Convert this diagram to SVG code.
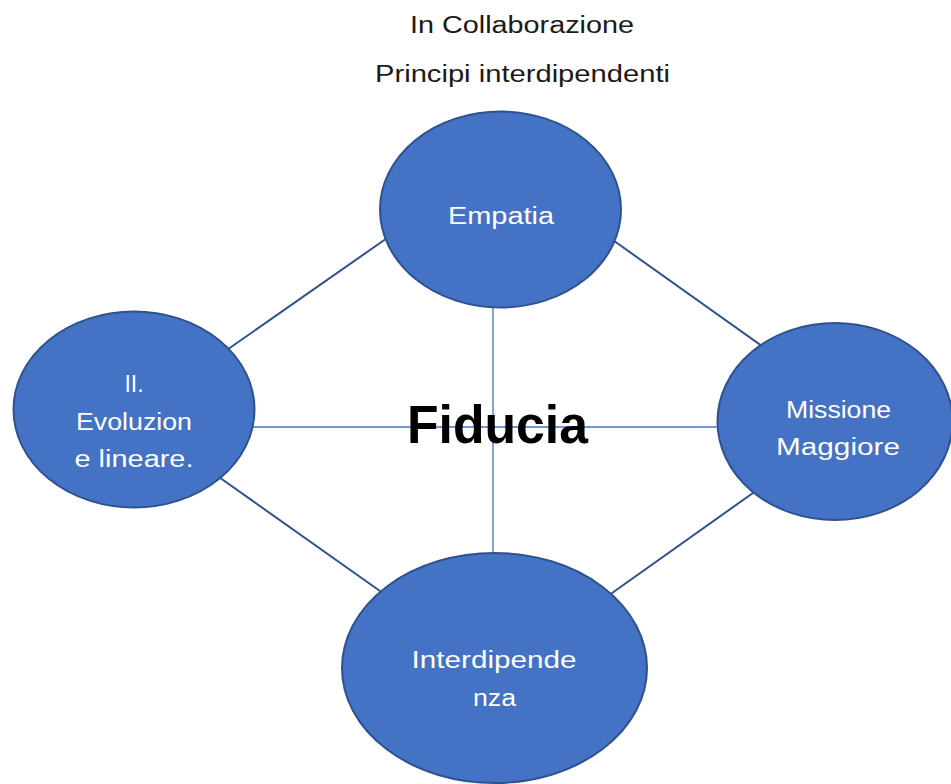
<svg xmlns="http://www.w3.org/2000/svg" width="951" height="784" viewBox="0 0 951 784">
<style>
.node{fill:#4472C4;stroke:#2F528F;stroke-width:2}
.lbl{font-family:"Liberation Sans","DejaVu Sans",sans-serif;font-size:23px;fill:#FFFFFF;text-anchor:middle}
.ttl{font-family:"Liberation Sans","DejaVu Sans",sans-serif;font-size:23px;fill:#1A1A1A;text-anchor:middle}
.diag{stroke:#2F528F;stroke-width:2;fill:none}
.cross{stroke:#4472C4;stroke-width:1.3;fill:none}
</style>
<rect width="951" height="784" fill="#FFFFFF"/>
<g id="title">
<text class="ttl" x="522" y="33" textLength="224" lengthAdjust="spacingAndGlyphs">In Collaborazione</text>
<text class="ttl" x="522.5" y="82" textLength="295" lengthAdjust="spacingAndGlyphs">Principi interdipendenti</text>
</g>
<g id="connectors">
<line class="diag" x1="390" y1="236" x2="224" y2="352"/>
<line class="diag" x1="610" y1="238" x2="766" y2="349"/>
<line class="diag" x1="216" y1="475" x2="387" y2="596"/>
<line class="diag" x1="760" y1="488" x2="605" y2="598"/>
<line class="cross" x1="493" y1="300" x2="493" y2="560"/>
<line class="cross" x1="250" y1="427" x2="722" y2="427"/>
</g>
<g id="node-empatia">
<ellipse class="node" cx="500.5" cy="209.5" rx="120.5" ry="98"/>
<text class="lbl" x="501" y="224" textLength="106" lengthAdjust="spacingAndGlyphs">Empatia</text>
</g>
<g id="node-evoluzione">
<ellipse class="node" cx="134" cy="409.5" rx="120.5" ry="98"/>
<text class="lbl" x="134" y="392">II.</text>
<text class="lbl" x="134" y="430" textLength="116" lengthAdjust="spacingAndGlyphs">Evoluzion</text>
<text class="lbl" x="134" y="467" textLength="119" lengthAdjust="spacingAndGlyphs">e lineare.</text>
</g>
<g id="node-missione">
<ellipse class="node" cx="835" cy="421.5" rx="117.5" ry="98.5"/>
<text class="lbl" x="838.5" y="418" textLength="105" lengthAdjust="spacingAndGlyphs">Missione</text>
<text class="lbl" x="838" y="455" textLength="124" lengthAdjust="spacingAndGlyphs">Maggiore</text>
</g>
<g id="node-interdipendenza">
<ellipse class="node" cx="494.5" cy="668" rx="152.5" ry="115"/>
<text class="lbl" x="494" y="668" textLength="165" lengthAdjust="spacingAndGlyphs">Interdipende</text>
<text class="lbl" x="494.5" y="706" textLength="43" lengthAdjust="spacingAndGlyphs">nza</text>
</g>
<g id="center-label">
<text x="497.5" y="443" font-family="'Liberation Sans','DejaVu Sans',sans-serif" font-size="53" font-weight="bold" fill="#000000" text-anchor="middle" textLength="181" lengthAdjust="spacingAndGlyphs">Fiducia</text>
</g>
</svg>
